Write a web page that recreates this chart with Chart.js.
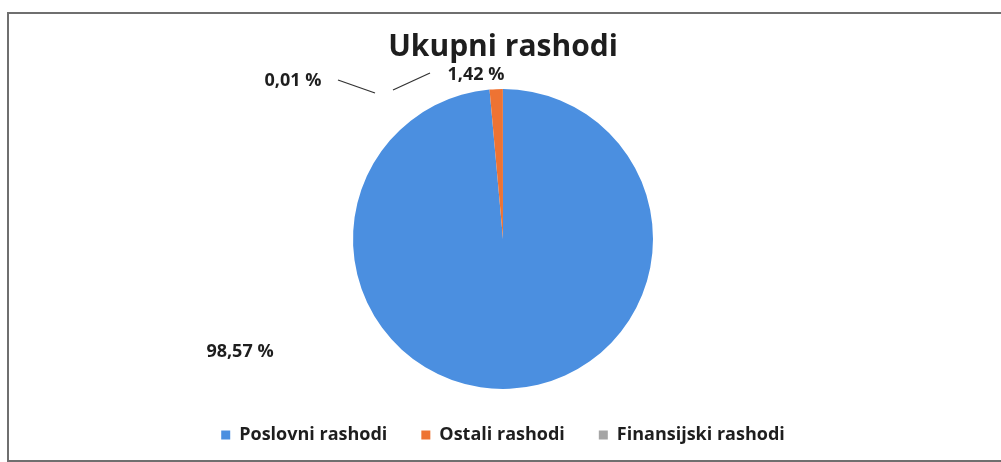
<!DOCTYPE html>
<html>
<head>
<meta charset="utf-8">
<script src="https://cdn.jsdelivr.net/npm/chart.js@4/dist/chart.umd.min.js"></script>
<style>
  body { margin: 0; background: #fff; }
  #frame {
    position: absolute; left: 7px; top: 12px; width: 1010px; height: 446px;
    border: 2px solid #6f6f6f; border-right: none;
  }
  #pie { position: absolute; left: 0; top: 0; }
</style>
</head>
<body>
<div id="frame"></div>
<canvas id="pie" width="1001" height="462"></canvas>
<script>
// Ukupni rashodi - share of total expenses (percent)
const categories = ["Poslovni rashodi", "Ostali rashodi", "Finansijski rashodi"];
const shares = [98.57, 1.42, 0.01];
const sliceColors = ["#4b8fe0", "#ee7333", "#a5a5a5"];

// where Excel put the data labels and leader lines (offset from pie centre, px)
const labelSpots = [
  { dx: -263, dy: 113 },
  { dx: -27, dy: -164 },
  { dx: -210, dy: -158 }
];
const leaderLines = [
  null,
  { from: [-110, -149], to: [-73, -166] },
  { from: [-165, -159], to: [-128, -146] }
];

const fmt = v => v.toFixed(2).replace(".", ",") + " %";

// draws the percentage labels next to the pie
const pieLabels = {
  id: "pieLabels",
  afterDatasetsDraw(chart) {
    const ctx = chart.ctx;
    const arc = chart.getDatasetMeta(0).data[0];
    const cx = arc.x, cy = arc.y;
    ctx.save();
    ctx.font = "bold 18px 'Open Sans'";
    ctx.fillStyle = "#1e1e1e";
    ctx.textAlign = "center";
    ctx.textBaseline = "middle";
    shares.forEach((v, i) => {
      ctx.fillText(fmt(v), cx + labelSpots[i].dx, cy + labelSpots[i].dy);
      const ln = leaderLines[i];
      if (ln) {
        ctx.beginPath();
        ctx.strokeStyle = "#333";
        ctx.lineWidth = 1.3;
        ctx.moveTo(cx + ln.from[0], cy + ln.from[1]);
        ctx.lineTo(cx + ln.to[0], cy + ln.to[1]);
        ctx.stroke();
      }
    });
    ctx.restore();
  }
};

new Chart(document.getElementById("pie"), {
  type: "pie",
  data: {
    labels: categories,
    datasets: [{
      data: shares,
      backgroundColor: sliceColors,
      borderWidth: 0,
      radius: 150
    }]
  },
  options: {
    responsive: false,
    animation: false,
    layout: { padding: { top: 14, left: 5, bottom: 8 } },
    plugins: {
      title: {
        display: true,
        text: "Ukupni rashodi",
        color: "#1e1e1e",
        font: { family: "'Open Sans'", size: 30, weight: "bold", lineHeight: 1.2 },
        padding: { top: 15, bottom: 21 }
      },
      legend: {
        position: "bottom",
        labels: {
          boxWidth: 9,
          boxHeight: 9,
          padding: 34,
          color: "#1e1e1e",
          font: { family: "'Open Sans'", size: 18, weight: "bold" }
        }
      },
      tooltip: { enabled: false }
    }
  },
  plugins: [pieLabels]
});
</script>
</body>
</html>
